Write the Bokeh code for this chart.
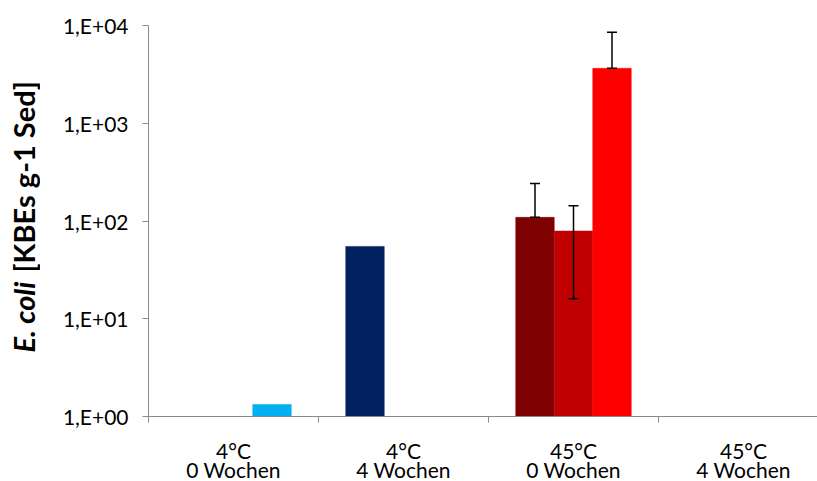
import math
from bokeh.plotting import figure
from bokeh.layouts import row, column
from bokeh.models import (Range1d, FixedTicker, CustomJSTickFormatter,
                          ColumnDataSource, Whisker, TeeHead)
from bokeh.core.properties import value
from bokeh.embed import file_html
from bokeh.resources import INLINE

# ---- data ----
categories = ["4°C\n0 Wochen", "4°C\n4 Wochen", "45°C\n0 Wochen", "45°C\n4 Wochen"]
nan = float("nan")
# three bar slots per category (Excel clustered series)
series_1 = [nan, 55.0, 109.0, nan]
series_2 = [nan, nan, 79.0, nan]
series_3 = [1.33, nan, 3650.0, nan]
err_up_1 = [nan, nan, 133.0, nan]
err_up_2 = [nan, nan, 64.0, nan]
err_up_3 = [nan, nan, 4900.0, nan]
err_dn_1 = [nan, nan, 0.0, nan]
err_dn_2 = [nan, nan, 63.0, nan]
err_dn_3 = [nan, nan, 0.0, nan]
colors_1 = ["#00B0F0", "#002060", "#7F0000", "#7F0000"]
colors_2 = ["#00B0F0", "#002060", "#C00000", "#C00000"]
colors_3 = ["#00B0F0", "#002060", "#FF0000", "#FF0000"]
y_ticks = [1, 10, 100, 1000, 10000]
y_title_italic = "E. coli"
y_title_rest = "[KBEs g-1 Sed]"

FONT = "Lato"
TOTAL_W, H = 817, 481
TW = 40                      # width of the title strip
FL, FT, FB = 148, 25, 416    # frame left/top/bottom on the page
PH = 430                     # height of the main chart canvas
MW = TOTAL_W - TW

# ---- title strip (rotated y-axis title in two styles) ----
t = figure(width=TW, height=H, output_backend="svg", toolbar_location=None,
           x_range=Range1d(0, TW), y_range=Range1d(H, 0),
           min_border_left=0, min_border_right=0,
           min_border_top=0, min_border_bottom=0)
t.axis.visible = False
t.grid.visible = False
t.outline_line_color = None
t.border_fill_color = "white"
t.text(x=[23], y=[352], text=[y_title_italic], angle=math.pi / 2,
       text_font=value(FONT), text_font_size="29px", text_font_style="bold italic",
       text_align="left", text_baseline="middle", text_color="black")
t.text(x=[23], y=[272], text=[y_title_rest], angle=math.pi / 2,
       text_font=value(FONT), text_font_size="29px", text_font_style="bold",
       text_align="left", text_baseline="middle", text_color="black")

# ---- main chart ----
p = figure(width=MW, height=PH, output_backend="svg", toolbar_location=None,
           y_axis_type="log", x_range=Range1d(0, (TOTAL_W - FL) / 170.0),
           y_range=Range1d(1, 10000),
           min_border_left=FL - TW, min_border_top=FT, min_border_right=0,
           min_border_bottom=PH - FB)
p.outline_line_color = None
p.xgrid.visible = False
p.ygrid.visible = False
p.background_fill_color = "white"
p.border_fill_color = "white"

bw = 0.2265
offsets = [-bw, 0.0, bw]
all_series = [series_1, series_2, series_3]
all_up = [err_up_1, err_up_2, err_up_3]
all_dn = [err_dn_1, err_dn_2, err_dn_3]
all_cols = [colors_1, colors_2, colors_3]
for s, up, dn, cols, off in zip(all_series, all_up, all_dn, all_cols, offsets):
    xs, tops, cs = [], [], []
    ex, eu, el = [], [], []
    for i, v in enumerate(s):
        if not math.isnan(v):
            xs.append(i + 0.5 + off)
            tops.append(v)
            cs.append(cols[i])
            if not math.isnan(up[i]):
                ex.append(i + 0.5 + off)
                eu.append(v + up[i])
                lo = v - dn[i]
                el.append(lo if lo > 0 else v)
    src = ColumnDataSource(dict(x=xs, top=tops, color=cs))
    p.vbar(x="x", top="top", bottom=1, width=bw, fill_color="color",
           line_color="color", line_width=0.5, source=src)
    if ex:
        esrc = ColumnDataSource(dict(x=ex, upper=eu, lower=el))
        wk = Whisker(source=esrc, base="x", upper="upper", lower="lower",
                     line_color="black", line_width=1.5, level="overlay",
                     upper_head=TeeHead(size=10, line_color="black", line_width=1.5),
                     lower_head=TeeHead(size=10, line_color="black", line_width=1.5))
        p.add_layout(wk)

# x axis: only the boundary ticks here; labels are drawn in the strip below
xa = p.xaxis[0]
xa.ticker = FixedTicker(ticks=[], minor_ticks=list(range(len(categories) + 1)))
xa.major_tick_out = 0
xa.major_tick_in = 0
xa.minor_tick_out = 6
xa.minor_tick_in = 0
xa.minor_tick_line_color = "#898989"
xa.axis_line_color = "#898989"
xa.axis_line_width = 1
xa.major_label_text_font_size = "0px"
xa.major_label_standoff = 0

# y axis
ya = p.yaxis[0]
ya.ticker = FixedTicker(ticks=y_ticks, minor_ticks=[])
ya.formatter = CustomJSTickFormatter(code="""
    const e = Math.round(Math.log10(tick));
    return "1,E+" + String(e).padStart(2, "0");
""")
ya.major_tick_out = 6
ya.major_tick_in = 0
ya.minor_tick_out = 0
ya.minor_tick_in = 0
ya.major_tick_line_color = "#898989"
ya.axis_line_color = "#898989"
ya.major_label_text_font = FONT
ya.major_label_text_font_size = "21px"
ya.major_label_text_color = "black"
ya.major_label_standoff = 14

# ---- category label strip below the chart ----
b = figure(width=MW, height=H - PH, output_backend="svg", toolbar_location=None,
           x_range=p.x_range, y_range=Range1d(H, PH),
           min_border_left=FL - TW, min_border_right=0,
           min_border_top=0, min_border_bottom=0)
b.axis.visible = False
b.grid.visible = False
b.outline_line_color = None
b.border_fill_color = "white"
line1 = [c.split("\n")[0] for c in categories]
line2 = [c.split("\n")[1] for c in categories]
cx = [i + 0.5 for i in range(len(categories))]
b.text(x=cx, y=[450] * len(cx), text=line1, text_font=value(FONT),
       text_font_size="21px", text_align="center", text_baseline="middle",
       text_color="black")
b.text(x=cx, y=[469] * len(cx), text=line2, text_font=value(FONT),
       text_font_size="21px", text_align="center", text_baseline="middle",
       text_color="black")

layout = row(t, column(p, b, spacing=0), spacing=0)
open("out.html", "w").write(file_html(layout, INLINE))
